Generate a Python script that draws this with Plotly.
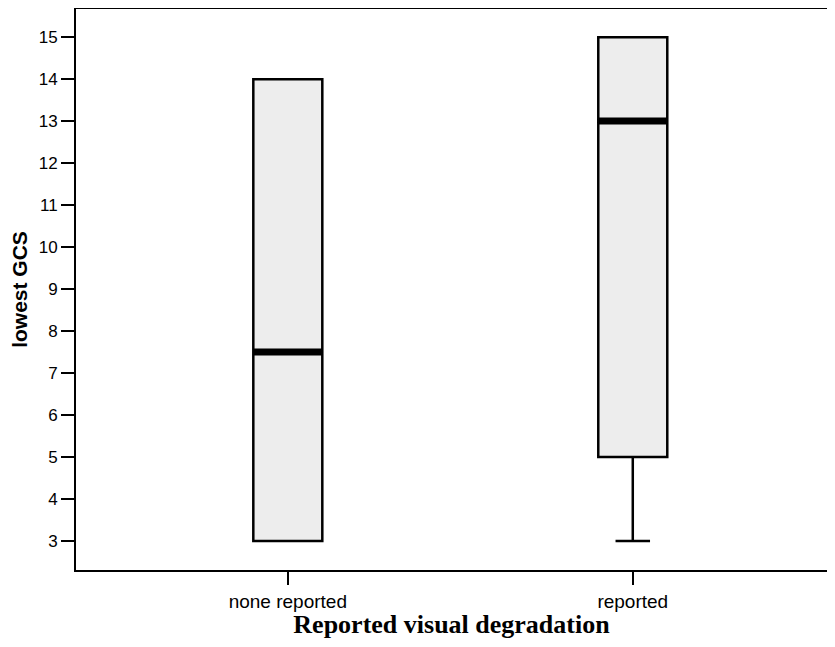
import plotly.graph_objects as go

categories = ["none reported", "reported"]
q1 = [3, 5]
median = [7.5, 13]
q3 = [14, 15]
lower = [3, 3]
upper = [14, 15]
yticks = list(range(3, 16))

xpos = [0, 1]
fig = go.Figure()
fig.add_trace(go.Box(
    x=xpos, q1=q1, median=median, q3=q3, lowerfence=lower, upperfence=upper,
    fillcolor="#ededed", line=dict(color="black", width=2.5),
    width=0.2, whiskerwidth=0.5, boxpoints=False, showlegend=False, hoverinfo="skip"))
for xp, m in zip(xpos, median):
    fig.add_trace(go.Scatter(x=[xp - 0.1, xp + 0.1], y=[m, m], mode="lines",
                             line=dict(color="black", width=7), showlegend=False, hoverinfo="skip"))

fig.update_layout(
    width=819, height=631, plot_bgcolor="white", paper_bgcolor="white",
    margin=dict(l=68, r=0, t=1, b=69),
    xaxis=dict(range=[-0.614, 1.563], tickvals=xpos, ticktext=categories,
               showgrid=False, zeroline=False, showline=True, linecolor="black", linewidth=2,
               mirror=True, ticks="outside", ticklen=13, tickwidth=1.5, tickcolor="black",
               tickfont=dict(family="Arial", size=19, color="black"),
               title=dict(text="<b>Reported visual degradation</b>", standoff=5,
                          font=dict(family="Liberation Serif", size=26, color="black"))),
    yaxis=dict(range=[2.31, 15.67], tickvals=yticks, showgrid=False, zeroline=False,
               showline=True, linecolor="black", linewidth=2, ticks="outside", ticklen=13,
               tickwidth=1.5, tickcolor="black", mirror=False,
               tickfont=dict(family="Arial", size=17, color="black"),
               title=dict(text="<b>lowest GCS</b>", standoff=10,
                          font=dict(family="Arial", size=21, color="black"))),
)
fig.write_html("out.html")
